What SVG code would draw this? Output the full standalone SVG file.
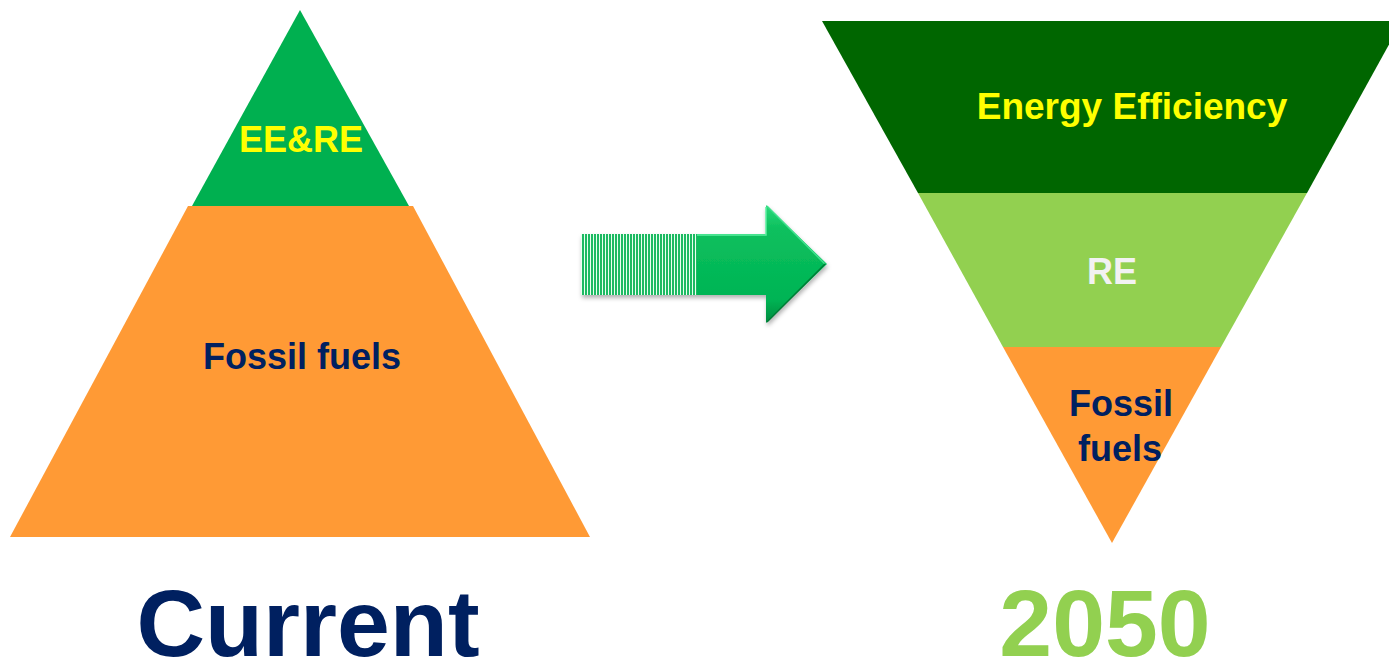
<svg xmlns="http://www.w3.org/2000/svg" width="1389" height="663" viewBox="0 0 1389 663">
<defs>
<style>
.lbl{font-family:"Liberation Sans",Arial,sans-serif;font-weight:bold;text-anchor:middle}
.yel{fill:#FFFF00}
.navy{fill:#002060}
.big{font-size:95px}
.mid{font-size:36px}
</style>
<pattern id="stripes" width="3" height="10" patternUnits="userSpaceOnUse">
<rect width="3" height="10" fill="#E8FFF0"/>
<rect width="2" height="10" fill="#1DBA62"/>
</pattern>
<linearGradient id="arrowG" x1="0" y1="0" x2="0" y2="1">
<stop offset="0" stop-color="#2BD97A"/>
<stop offset="0.2" stop-color="#0CC05E"/>
<stop offset="0.8" stop-color="#00B454"/>
<stop offset="1" stop-color="#008A3E"/>
</linearGradient>
<filter id="sh" x="-10%" y="-10%" width="130%" height="140%">
<feDropShadow dx="1" dy="3" stdDeviation="2" flood-color="#000" flood-opacity="0.3"/>
</filter>
</defs>
<rect width="1389" height="663" fill="#FFFFFF"/>

<g id="current-fossil">
<polygon points="188,206 413,206 590,537 10,537" fill="#FF9A35"/>
<text class="lbl mid navy" x="302" y="369">Fossil fuels</text>
</g>
<g id="current-eere">
<polygon points="300,10 409,206 192,206" fill="#00B050"/>
<text class="lbl mid yel" x="301" y="152">EE&amp;RE</text>
</g>
<g id="label-current">
<text class="lbl big navy" x="308" y="656">Current</text>
</g>

<g id="connectors">
<g filter="url(#sh)">
<rect x="581" y="234" width="117" height="61" fill="url(#stripes)"/>
<polygon points="697,234 766,234 766,205 827,264 766,323 766,295 697,295" fill="url(#arrowG)"/>
<polyline points="697,235 766,235 766,207" fill="none" stroke="#5BF0A0" stroke-width="1.5"/>
<polyline points="767,206 825,264" fill="none" stroke="#3FE08C" stroke-width="1.5"/>
<polyline points="825,264 767,322" fill="none" stroke="#007A35" stroke-width="1.5"/>
</g>
</g>

<g id="future-ee">
<polygon points="822,21 1402,21 1307,193 918,193" fill="#006600"/>
<text class="lbl yel" style="font-size:37px" x="1132" y="119">Energy Efficiency</text>
</g>
<g id="future-re">
<polygon points="918,193 1307,193 1221,347 1003,347" fill="#92D050"/>
<text class="lbl mid" fill="#F2F2F2" x="1112" y="284">RE</text>
</g>
<g id="future-fossil">
<polygon points="1003,347 1221,347 1112,543" fill="#FF9A35"/>
<text class="lbl mid navy" x="1121" y="416">Fossil</text>
<text class="lbl mid navy" x="1120" y="461">fuels</text>
</g>
<g id="label-2050">
<text class="lbl big" fill="#92D050" x="1105" y="656">2050</text>
</g>
</svg>
